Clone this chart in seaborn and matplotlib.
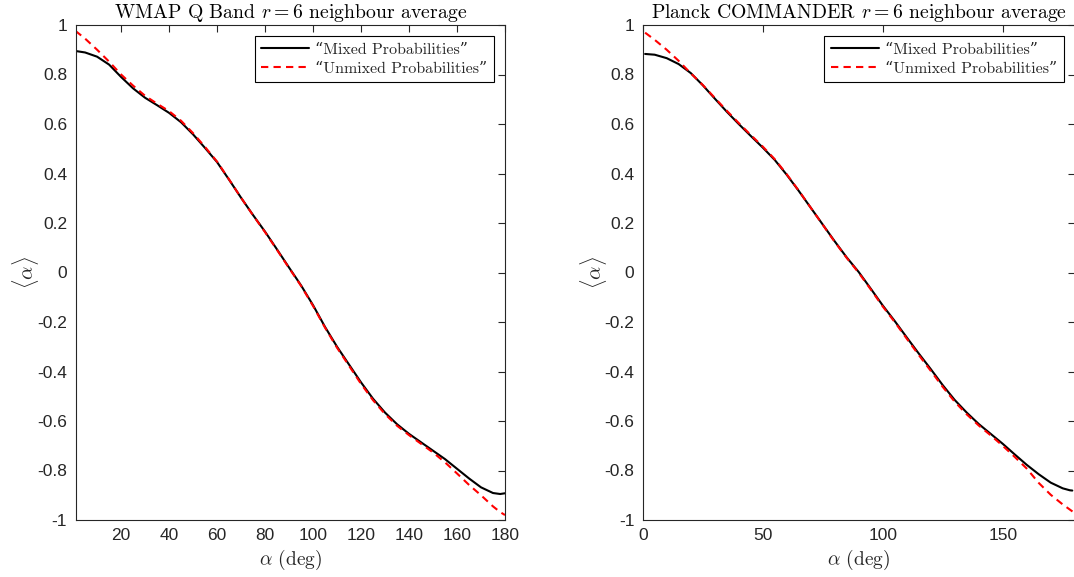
import numpy as np
import pandas as pd
import matplotlib
matplotlib.use("Agg")
import matplotlib.pyplot as plt
import seaborn as sns

# Mean recovered angle <alpha> vs. input angle alpha (deg)
alpha_wmap = [1, 5, 10, 15, 20, 25, 30, 35, 40, 45, 50, 55, 60, 65, 70, 75, 80, 85, 90,
              95, 100, 105, 110, 115, 120, 125, 130, 135, 140, 145, 150, 155, 160, 165,
              170, 175, 178, 180]
wmap_mixed = [0.895, 0.889, 0.872, 0.840, 0.790, 0.744, 0.706, 0.676, 0.645, 0.607, 0.558,
              0.503, 0.446, 0.375, 0.302, 0.232, 0.165, 0.093, 0.020, -0.052, -0.132,
              -0.220, -0.300, -0.372, -0.444, -0.510, -0.566, -0.613, -0.652, -0.686,
              -0.720, -0.754, -0.793, -0.832, -0.868, -0.891, -0.895, -0.892]
wmap_unmixed = [0.976, 0.945, 0.900, 0.852, 0.800, 0.755, 0.714, 0.682, 0.652, 0.613, 0.563,
                0.507, 0.448, 0.376, 0.302, 0.231, 0.163, 0.091, 0.018, -0.054, -0.135,
                -0.223, -0.304, -0.377, -0.450, -0.516, -0.572, -0.619, -0.657, -0.692,
                -0.727, -0.767, -0.812, -0.858, -0.900, -0.945, -0.968, -0.980]

alpha_planck = [1, 5, 10, 15, 20, 25, 30, 35, 40, 45, 50, 55, 60, 65, 70, 75, 80, 85, 90,
                95, 100, 105, 110, 115, 120, 125, 130, 135, 140, 145, 150, 155, 160, 165,
                170, 175, 178, 179]
planck_mixed = [0.883, 0.880, 0.866, 0.842, 0.806, 0.757, 0.703, 0.650, 0.600, 0.552, 0.505,
                0.455, 0.395, 0.330, 0.262, 0.194, 0.126, 0.061, 0.002, -0.065, -0.133,
                -0.196, -0.262, -0.327, -0.390, -0.455, -0.515, -0.566, -0.612, -0.652,
                -0.692, -0.735, -0.777, -0.815, -0.849, -0.872, -0.880, -0.881]
alpha_planck_u = [1, 5, 10, 15, 20, 25, 30, 35, 40, 45, 50, 55, 60, 65, 70, 75, 80, 85, 90,
                  95, 100, 105, 110, 115, 120, 125, 130, 135, 140, 145, 150, 155, 160, 165,
                  170, 175, 180]
planck_unmixed = [0.969, 0.940, 0.900, 0.855, 0.805, 0.758, 0.706, 0.654, 0.604, 0.556, 0.509,
                  0.458, 0.397, 0.331, 0.262, 0.193, 0.124, 0.059, -0.001, -0.068, -0.137,
                  -0.200, -0.267, -0.333, -0.397, -0.462, -0.522, -0.573, -0.618, -0.658,
                  -0.700, -0.745, -0.792, -0.850, -0.898, -0.937, -0.972]

yticks = [-1, -0.8, -0.6, -0.4, -0.2, 0, 0.2, 0.4, 0.6, 0.8, 1]
ytick_labels = ["-1", "-0.8", "-0.6", "-0.4", "-0.2", "0", "0.2", "0.4", "0.6", "0.8", "1"]
xticks_left = [20, 40, 60, 80, 100, 120, 140, 160, 180]
xticks_right = [0, 50, 100, 150]

titles = [r"WMAP Q Band $r = 6$ neighbour average",
          r"Planck COMMANDER $r = 6$ neighbour average"]
labels = ["\u201cMixed Probabilities\u201d", "\u201cUnmixed Probabilities\u201d"]

sns.set_style("white")
plt.rcParams["mathtext.fontset"] = "cm"
SERIF = ["cmr10", "DejaVu Serif"]
SANS = ["Liberation Sans", "DejaVu Sans"]
AX_COLOR = "#262626"
DASH = (3.5, 2.5)

fig = plt.figure(figsize=(10.74, 5.77), dpi=100)
ax1 = fig.add_axes([75.5 / 1074, 57 / 577, 429.5 / 1074, 495 / 577])
ax2 = fig.add_axes([642.7 / 1074, 57 / 577, 432 / 1074, 495 / 577])

panels = [
    (ax1, alpha_wmap, wmap_mixed, alpha_wmap, wmap_unmixed, (1, 180), xticks_left),
    (ax2, alpha_planck, planck_mixed, alpha_planck_u, planck_unmixed, (0, 180), xticks_right),
]

for i, (ax, xm, ym, xu, yu, xlim, xt) in enumerate(panels):
    sns.lineplot(x=xm, y=ym, ax=ax, color="black", linewidth=1.5, label=labels[0])
    sns.lineplot(x=xu, y=yu, ax=ax, color="red", linewidth=1.5, label=labels[1])
    ax.lines[1].set_dashes(DASH)

    ax.set_xlim(*xlim)
    ax.set_ylim(-1, 1)
    ax.set_xticks(xt)
    ax.set_xticklabels([str(v) for v in xt])
    ax.set_yticks(yticks)
    ax.set_yticklabels(ytick_labels)
    for lab in ax.get_xticklabels() + ax.get_yticklabels():
        lab.set_family(SANS)
    ax.tick_params(direction="in", top=True, right=True, length=5, width=0.8,
                   color=AX_COLOR, labelcolor=AX_COLOR, labelsize=12.5, pad=6)
    for sp in ax.spines.values():
        sp.set_visible(True)
        sp.set_color(AX_COLOR)
        sp.set_linewidth(0.8)

    ax.set_title(titles[i], family=SERIF, fontsize=14.2, pad=5, color="black")
    ax.set_xlabel(r"$\alpha$ (deg)", family=SERIF, fontsize=14, labelpad=3)
    ax.set_ylabel(r"$\langle\alpha\rangle$", family=SERIF, fontsize=15, labelpad=-3)

    leg = ax.legend(loc="upper right", prop={"family": SERIF, "size": 11.5},
                    frameon=True, fancybox=False, framealpha=1, edgecolor="black",
                    handlelength=3.0, handletextpad=0.4, borderpad=0.4,
                    labelspacing=0.3, borderaxespad=0.7)
    leg.get_frame().set_linewidth(0.8)
    leg.get_lines()[1].set_dashes(DASH)

fig.savefig("out.png", dpi=100, facecolor="white")
